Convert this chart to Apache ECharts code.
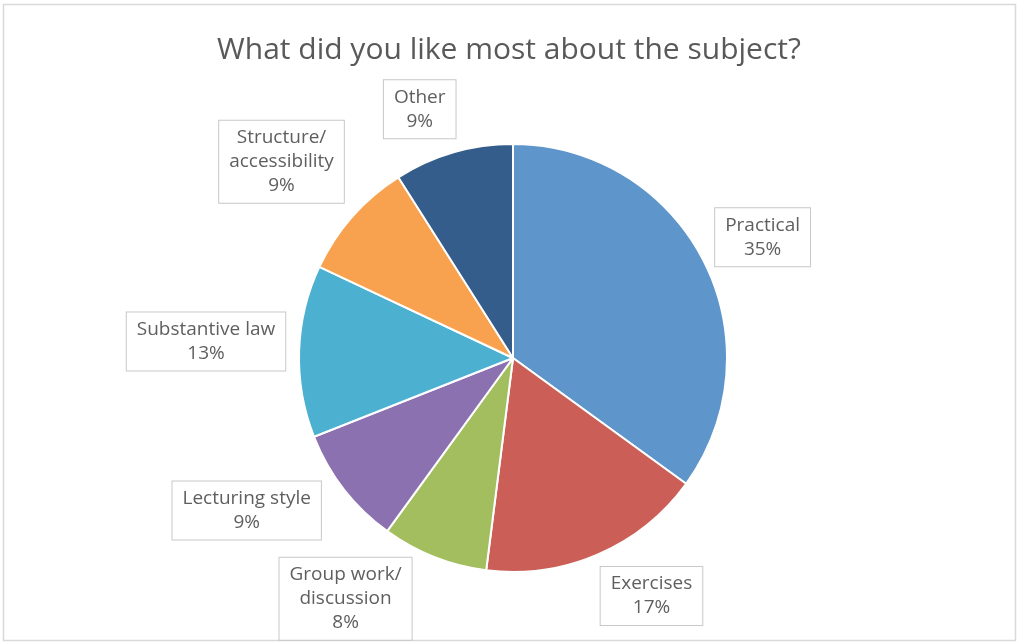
<!DOCTYPE html>
<html>
<head>
<meta charset="utf-8">
<script src="https://cdn.jsdelivr.net/npm/echarts@6/dist/echarts.min.js"></script>
<style>
  html, body { margin: 0; padding: 0; background: #fff; }
  #main { width: 1018px; height: 643px; }
</style>
</head>
<body>
<div id="main"></div>
<script>
// data
var categories = ['Practical', 'Exercises', 'Group work/discussion', 'Lecturing style',
  'Substantive law', 'Structure/accessibility', 'Other'];
var shares = [35, 17, 8, 9, 13, 9, 9];
var colors = ['#5E95CA', '#CB5F57', '#A3BE5E', '#8C71B0', '#4CB0D0', '#F8A24F', '#345D8B'];

// small per-label nudges (px) to mimic where Excel put each label box
var labelNudge = [[3, 5], [32, -8], [-63, -23], [-31, -30], [-6, -7], [-10, -1], [-21, 0]];

var chart = echarts.init(document.getElementById('main'));

chart.setOption({
  backgroundColor: '#ffffff',
  animation: false,
  title: {
    text: 'What did you like most about the subject?',
    left: 'center',
    top: 35,
    padding: 0,
    textStyle: {
      fontFamily: 'Open Sans',
      fontSize: 30,
      fontWeight: 'normal',
      color: '#595959'
    }
  },
  graphic: [
    {
      type: 'rect',
      shape: { x: 3.5, y: 4.5, width: 1012, height: 636 },
      style: { fill: 'none', stroke: '#d9d9d9', lineWidth: 1.5 },
      silent: true
    }
  ],
  series: [
    {
      type: 'pie',
      center: [513, 358],
      radius: 214,
      startAngle: 90,
      clockwise: true,
      avoidLabelOverlap: false,
      data: categories.map(function (name, i) {
        return { name: name, value: shares[i], itemStyle: { color: colors[i] } };
      }),
      itemStyle: {
        borderColor: '#ffffff',
        borderWidth: 2
      },
      emphasis: { disabled: true },
      label: {
        show: true,
        position: 'outside',
        fontFamily: 'Open Sans',
        fontSize: 19,
        lineHeight: 24,
        color: '#5f5f5f',
        align: 'center',
        backgroundColor: '#ffffff',
        borderColor: '#c8c8c8',
        borderWidth: 1,
        padding: [5, 10],
        formatter: function (p) {
          return p.name.replace('/', '/\n') + '\n' + Math.round(p.percent) + '%';
        }
      },
      labelLine: {
        show: true,
        length: 10,
        length2: 0,
        lineStyle: { opacity: 0 }
      },
      // put each box just outside the slice, along its middle ray
      labelLayout: function (params) {
        var pts = params.labelLinePoints;
        if (!pts) return {};
        var dx = pts[1][0] - pts[0][0];
        var dy = pts[1][1] - pts[0][1];
        var len = Math.sqrt(dx * dx + dy * dy) || 1;
        var ux = dx / len, uy = dy / len;
        var w = params.labelRect.width, h = params.labelRect.height;
        var off = 6 + Math.abs(ux) * w / 2 + Math.abs(uy) * h / 2;
        var nudge = labelNudge[params.dataIndex] || [0, 0];
        return {
          x: pts[0][0] + ux * off + nudge[0],
          y: pts[0][1] + uy * off + nudge[1],
          align: 'center',
          verticalAlign: 'middle'
        };
      }
    }
  ]
});
</script>
</body>
</html>
